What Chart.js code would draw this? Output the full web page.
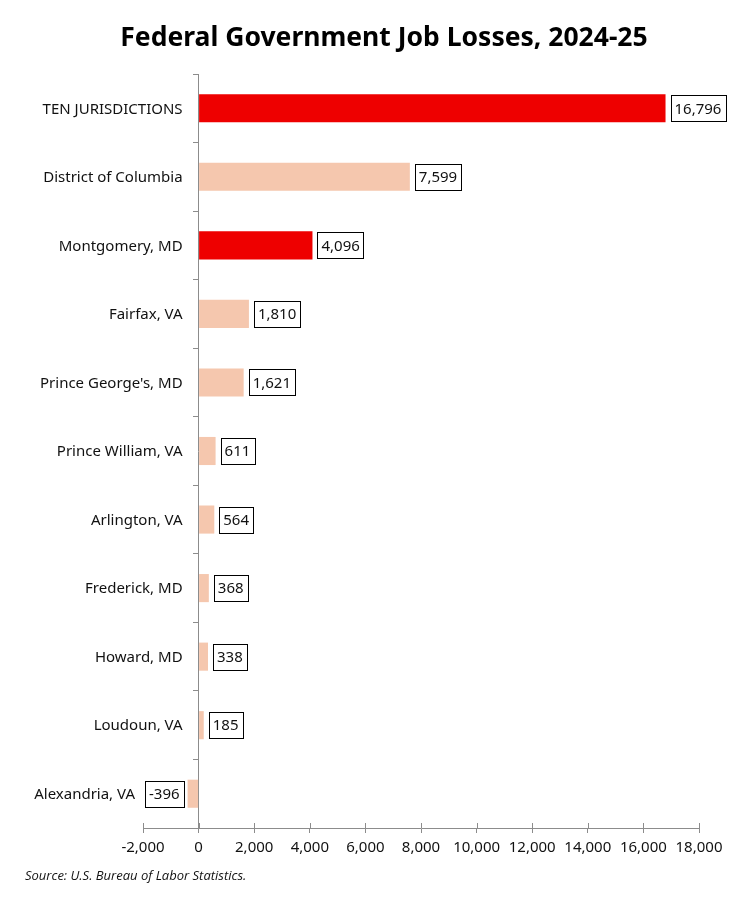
<!DOCTYPE html>
<html>
<head>
<meta charset="utf-8">
<title>Federal Government Job Losses, 2024-25</title>
<script src="https://cdn.jsdelivr.net/npm/chart.js@4/dist/chart.umd.min.js"></script>
<style>
    html, body { margin: 0; padding: 0; background: #fff; }
    #wrap { width: 752px; height: 902px; position: relative; }
</style>
</head>
<body>
<div id="wrap"><canvas id="lossChart"></canvas></div>
<script>
// dados
const categories = [
    'TEN JURISDICTIONS',
    'District of Columbia',
    'Montgomery, MD',
    'Fairfax, VA',
    "Prince George's, MD",
    'Prince William, VA',
    'Arlington, VA',
    'Frederick, MD',
    'Howard, MD',
    'Loudoun, VA',
    'Alexandria, VA'
];
const jobLosses = [16796, 7599, 4096, 1810, 1621, 611, 564, 368, 338, 185, -396];
const highlighted = ['TEN JURISDICTIONS', 'Montgomery, MD'];
const xTicks = [-2000, 0, 2000, 4000, 6000, 8000, 10000, 12000, 14000, 16000, 18000];
const chartTitle = 'Federal Government Job Losses, 2024-25';
const sourceNote = 'Source: U.S. Bureau of Labor Statistics.';

const RED = '#EE0000';
const PEACH = '#F5C7AE';
const AXIS = '#8c8c8c';
const FONT = "'Noto Sans', sans-serif";

const fmt = v => v.toLocaleString('en-US');

// título, rótulos de categoria, caixas de valores e fonte
const labelsPlugin = {
    id: 'labelsPlugin',
    afterDatasetsDraw(chart) {
        const ctx = chart.ctx;
        const meta = chart.getDatasetMeta(0);
        const xs = chart.scales.x;
        const zero = xs.getPixelForValue(0);

        ctx.save();
        // título centrado na página
        ctx.font = 'bold 26.5px ' + FONT;
        ctx.fillStyle = '#000';
        ctx.textAlign = 'center';
        ctx.textBaseline = 'middle';
        ctx.fillText(chartTitle, 384, 38);

        // ticks cruzando o eixo x
        ctx.strokeStyle = AXIS;
        ctx.lineWidth = 1;
        const yb = chart.chartArea.bottom;
        xTicks.forEach(t => {
            const px = Math.round(xs.getPixelForValue(t)) + 0.5;
            ctx.beginPath();
            ctx.moveTo(px, yb - 5);
            ctx.lineTo(px, yb);
            ctx.stroke();
        });

        ctx.font = '15px ' + FONT;
        meta.data.forEach((bar, i) => {
            const v = jobLosses[i];
            const txt = fmt(v);
            const w = ctx.measureText(txt).width + 8;
            const h = 26;
            let left;
            if (v >= 0) left = bar.x + 5;
            else left = bar.x - 4 - w;
            const top = bar.y - h / 2;
            ctx.fillStyle = '#fff';
            ctx.fillRect(left, top, w, h);
            ctx.strokeStyle = '#000';
            ctx.lineWidth = 1;
            ctx.strokeRect(Math.round(left) + 0.5, Math.round(top) + 0.5, Math.round(w), h);
            ctx.fillStyle = '#111';
            ctx.textAlign = 'center';
            ctx.fillText(txt, left + w / 2, bar.y + 1);

            // nome da categoria
            const right = v >= 0 ? zero - 16 : left - 10;
            ctx.textAlign = 'right';
            ctx.fillText(categories[i], right, bar.y + 1);
        });

        ctx.font = 'italic 13px ' + "'Open Sans', sans-serif";
        ctx.textAlign = 'left';
        ctx.fillStyle = '#111';
        ctx.fillText(sourceNote, 25, 876);
        ctx.restore();
    }
};

const ctx = document.getElementById('lossChart').getContext('2d');

const data = {
    labels: categories,
    datasets: [{
        label: 'Federal Government Job Losses',
        data: jobLosses,
        backgroundColor: categories.map(c => highlighted.includes(c) ? RED : PEACH),
        borderWidth: 0,
        barPercentage: 0.41,
        categoryPercentage: 1
    }]
};

const config = {
    type: 'bar',
    data: data,
    options: {
        indexAxis: 'y',
        responsive: true,
        maintainAspectRatio: false,
        animation: false,
        layout: {
            padding: { left: 143, right: 53, top: 74, bottom: 39 }
        },
        plugins: {
            legend: { display: false },
            tooltip: { enabled: false },
            title: { display: false }
        },
        scales: {
            x: {
                type: 'linear',
                min: -2000,
                max: 18000,
                afterBuildTicks: axis => { axis.ticks = xTicks.map(v => ({ value: v })); },
                border: { display: true, color: AXIS, width: 1 },
                grid: { drawOnChartArea: false, tickLength: 5, color: AXIS },
                ticks: {
                    color: '#111',
                    padding: 6,
                    maxRotation: 0,
                    font: { family: FONT, size: 15 },
                    callback: v => fmt(v)
                }
            },
            y: {
                position: { x: 0 },
                border: { display: true, color: AXIS, width: 1 },
                grid: { drawOnChartArea: false, tickLength: 5, color: AXIS, offset: true },
                ticks: { display: false }
            }
        }
    },
    plugins: [labelsPlugin]
};

const lossChart = new Chart(ctx, config);
</script>
</body>
</html>
